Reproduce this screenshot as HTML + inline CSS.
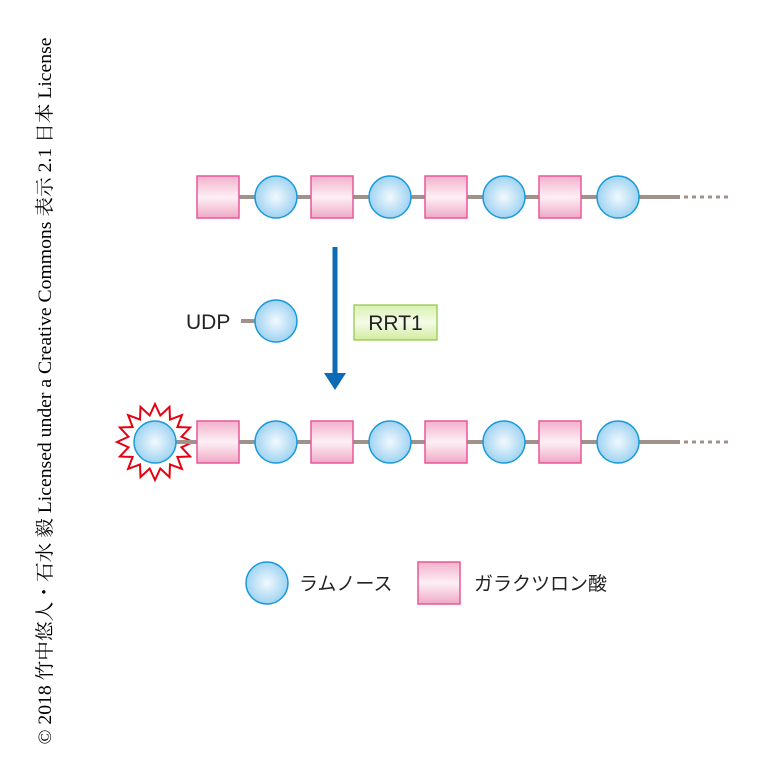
<!DOCTYPE html>
<html><head><meta charset="utf-8"><style>
html,body{margin:0;padding:0;background:#fff;width:765px;height:780px;overflow:hidden}
</style></head><body>
<svg width="765" height="780" viewBox="0 0 765 780" xmlns="http://www.w3.org/2000/svg">
<defs>
<radialGradient id="cg" cx="0.5" cy="0.5" r="0.5">
<stop offset="0" stop-color="#f2f9fe"/><stop offset="1" stop-color="#9fd3f2"/></radialGradient>
<linearGradient id="sg" x1="0" y1="0" x2="0" y2="1">
<stop offset="0" stop-color="#f3b1cc"/><stop offset="0.5" stop-color="#fdf0f5"/><stop offset="1" stop-color="#f0a8c5"/></linearGradient>
<linearGradient id="gg" x1="0" y1="0" x2="0" y2="1">
<stop offset="0" stop-color="#d9f0b0"/><stop offset="0.5" stop-color="#f4fbe8"/><stop offset="1" stop-color="#d2ec9f"/></linearGradient>
<g id="C"><circle r="21" fill="url(#cg)" stroke="#1a9ad9" stroke-width="1.5"/></g>
<g id="S"><rect x="0" y="-21" width="42" height="42" fill="url(#sg)" stroke="#e8579a" stroke-width="1.5"/></g>
</defs>
<g transform="translate(45,391) rotate(-90)">
<text x="0" y="6" text-anchor="middle" textLength="707" lengthAdjust="spacingAndGlyphs" font-family="'Liberation Serif','Noto Serif CJK SC',serif" font-size="19" fill="#000">© 2018 竹中悠人・石水 毅 Licensed under a Creative Commons 表示 2.1 日本 License</text>
</g>
<line x1="239" y1="197" x2="680" y2="197" stroke="#a0928a" stroke-width="4"/>
<line x1="684" y1="197" x2="732" y2="197" stroke="#a0928a" stroke-width="3" stroke-dasharray="4,4"/>
<use href="#S" x="197" y="197"/><use href="#C" x="276" y="197"/>
<use href="#S" x="311" y="197"/><use href="#C" x="390" y="197"/>
<use href="#S" x="425" y="197"/><use href="#C" x="504" y="197"/>
<use href="#S" x="539" y="197"/><use href="#C" x="618" y="197"/>
<line x1="335" y1="247" x2="335" y2="375" stroke="#0d6bb5" stroke-width="5"/>
<polygon points="324,373 346,373 335,390" fill="#0d6bb5"/>
<text x="186" y="329" font-family="'Liberation Sans',sans-serif" font-size="21" fill="#222">UDP</text>
<line x1="241" y1="321" x2="256" y2="321" stroke="#a0928a" stroke-width="4"/>
<use href="#C" x="276" y="321"/>
<rect x="354" y="305" width="83" height="35" fill="url(#gg)" stroke="#8cc63f" stroke-width="1.2"/>
<text x="395.5" y="330" text-anchor="middle" font-family="'Liberation Sans',sans-serif" font-size="21" fill="#222">RRT1</text>
<line x1="155" y1="442" x2="680" y2="442" stroke="#a0928a" stroke-width="4"/>
<line x1="684" y1="442" x2="732" y2="442" stroke="#a0928a" stroke-width="3" stroke-dasharray="4,4"/>
<polygon transform="translate(155,442)" fill="#fff" stroke="#e60012" stroke-width="2" points="38,0 26.5,5.3 35.1,14.5 22.4,15 26.9,26.9 15,22.4 14.5,35.1 5.3,26.5 0,38 -5.3,26.5 -14.5,35.1 -15,22.4 -26.9,26.9 -22.4,15 -35.1,14.5 -26.5,5.3 -38,0 -26.5,-5.3 -35.1,-14.5 -22.4,-15 -26.9,-26.9 -15,-22.4 -14.5,-35.1 -5.3,-26.5 0,-38 5.3,-26.5 14.5,-35.1 15,-22.4 26.9,-26.9 22.4,-15 35.1,-14.5 26.5,-5.3"/>
<line x1="176" y1="442" x2="197" y2="442" stroke="#a0928a" stroke-width="4"/>
<use href="#C" x="155" y="442"/>
<use href="#S" x="197" y="442"/><use href="#C" x="276" y="442"/>
<use href="#S" x="311" y="442"/><use href="#C" x="390" y="442"/>
<use href="#S" x="425" y="442"/><use href="#C" x="504" y="442"/>
<use href="#S" x="539" y="442"/><use href="#C" x="618" y="442"/>
<use href="#C" x="267" y="583"/>
<text x="299" y="590" font-family="'Liberation Sans','Noto Sans CJK JP',sans-serif" font-size="19" fill="#222">ラムノース</text>
<use href="#S" x="418" y="583"/>
<text x="474" y="590" font-family="'Liberation Sans','Noto Sans CJK JP',sans-serif" font-size="19" fill="#222">ガラクツロン酸</text>
</svg>
</body></html>
